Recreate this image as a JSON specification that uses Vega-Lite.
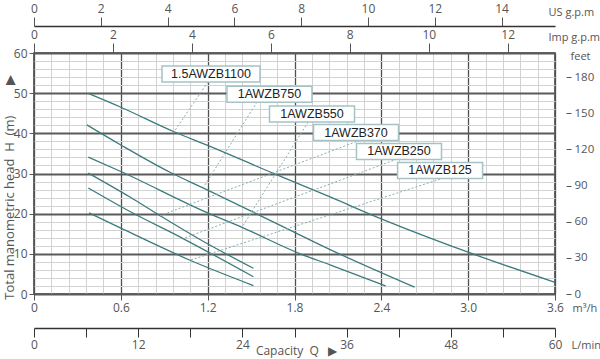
{
  "$schema": "https://vega.github.io/schema/vega-lite/v6.json",
  "width": 521,
  "height": 241,
  "autosize": {"type": "none"},
  "padding": {"left": 34, "top": 53, "right": 45, "bottom": 65},
  "background": "white",
  "config": {
    "view": {"stroke": "#3a3a3a", "strokeWidth": 1.5},
    "axis": {
      "labelFont": "Open Sans", "titleFont": "Open Sans",
      "labelColor": "#555", "titleColor": "#555",
      "labelFontSize": 12, "titleFontSize": 11, "titleFontWeight": "normal",
      "tickColor": "#555", "domainColor": "#333", "grid": false,
      "labelFlush": false, "labelOverlap": false
    }
  },
  "datasets": {
    "curves": [
      {"model": "1.5AWZB1100", "q": 0.37, "h": 50.0},
      {"model": "1.5AWZB1100", "q": 0.6, "h": 46.5},
      {"model": "1.5AWZB1100", "q": 0.968, "h": 40.4},
      {"model": "1.5AWZB1100", "q": 1.2, "h": 37.0},
      {"model": "1.5AWZB1100", "q": 1.65, "h": 30.1},
      {"model": "1.5AWZB1100", "q": 2.05, "h": 24.1},
      {"model": "1.5AWZB1100", "q": 2.4, "h": 18.7},
      {"model": "1.5AWZB1100", "q": 3.0, "h": 10.4},
      {"model": "1.5AWZB1100", "q": 3.6, "h": 2.9},
      {"model": "1AWZB750", "q": 0.365, "h": 42.1},
      {"model": "1AWZB750", "q": 0.6, "h": 37.1},
      {"model": "1AWZB750", "q": 0.94, "h": 30.3},
      {"model": "1AWZB750", "q": 1.168, "h": 26.4},
      {"model": "1AWZB750", "q": 1.57, "h": 19.4},
      {"model": "1AWZB750", "q": 1.815, "h": 15.1},
      {"model": "1AWZB750", "q": 2.05, "h": 11.0},
      {"model": "1AWZB750", "q": 2.63, "h": 1.7},
      {"model": "1AWZB550", "q": 0.375, "h": 34.1},
      {"model": "1AWZB550", "q": 0.6, "h": 30.5},
      {"model": "1AWZB550", "q": 1.2, "h": 20.2},
      {"model": "1AWZB550", "q": 1.437, "h": 16.6},
      {"model": "1AWZB550", "q": 1.84, "h": 10.0},
      {"model": "1AWZB550", "q": 2.05, "h": 7.2},
      {"model": "1AWZB550", "q": 2.43, "h": 2.0},
      {"model": "1AWZB370", "q": 0.375, "h": 30.1},
      {"model": "1AWZB370", "q": 0.66, "h": 24.2},
      {"model": "1AWZB370", "q": 0.871, "h": 19.5},
      {"model": "1AWZB370", "q": 1.15, "h": 13.5},
      {"model": "1AWZB370", "q": 1.516, "h": 6.4},
      {"model": "1AWZB250", "q": 0.375, "h": 26.4},
      {"model": "1AWZB250", "q": 0.66, "h": 20.6},
      {"model": "1AWZB250", "q": 1.03, "h": 13.8},
      {"model": "1AWZB250", "q": 1.516, "h": 4.3},
      {"model": "1AWZB125", "q": 0.38, "h": 20.2},
      {"model": "1AWZB125", "q": 0.6, "h": 16.4},
      {"model": "1AWZB125", "q": 1.078, "h": 8.4},
      {"model": "1AWZB125", "q": 1.516, "h": 2.1}
    ],
    "notes": [
      {"model": "1.5AWZB1100", "lq": 1.223, "lh": 54.8, "sq": 1.202, "sh": 52.8, "aq": 0.968, "ah": 40.4},
      {"model": "1AWZB750", "lq": 1.627, "lh": 49.7, "sq": 1.541, "sh": 47.8, "aq": 1.168, "ah": 26.4},
      {"model": "1AWZB550", "lq": 1.921, "lh": 44.8, "sq": 1.894, "sh": 42.8, "aq": 1.437, "ah": 16.6},
      {"model": "1AWZB370", "lq": 2.225, "lh": 40.2, "sq": 2.253, "sh": 38.3, "aq": 0.871, "ah": 19.5},
      {"model": "1AWZB250", "lq": 2.522, "lh": 35.5, "sq": 2.509, "sh": 33.6, "aq": 1.03, "ah": 13.8},
      {"model": "1AWZB125", "lq": 2.806, "lh": 30.75, "sq": 2.806, "sh": 28.6, "aq": 1.078, "ah": 8.4}
    ]
  },
  "resolve": {"scale": {"x": "independent", "y": "independent"}},
  "layer": [
    {
      "data": {"name": "curves"},
      "mark": {"type": "point", "opacity": 0},
      "encoding": {
        "x": {"field": "q", "type": "quantitative", "scale": {"domain": [0, 3.6], "nice": false, "zero": false},
          "axis": {"orient": "bottom", "values": [0.12,0.24,0.36,0.48,0.72,0.84,0.96,1.08,1.32,1.44,1.56,1.68,1.92,2.04,2.16,2.28,2.52,2.64,2.76,2.88,3.12,3.24,3.36,3.48],
            "grid": true, "gridColor": "#d2d2d2", "gridWidth": 1, "labels": false, "ticks": false, "domain": false, "title": null}},
        "y": {"field": "h", "type": "quantitative", "scale": {"domain": [0, 60], "nice": false, "zero": false},
          "axis": {"orient": "left", "values": [2,4,6,8,12,14,16,18,22,24,26,28,32,34,36,38,42,44,46,48,52,54,56,58],
            "grid": true, "gridColor": "#d2d2d2", "gridWidth": 1, "labels": false, "ticks": false, "domain": false, "title": null}}
      }
    },
    {
      "data": {"name": "curves"},
      "mark": {"type": "line", "interpolate": "monotone", "strokeWidth": 1.3, "color": "#3c7b7d"},
      "encoding": {
        "detail": {"field": "model"},
        "x": {"field": "q", "type": "quantitative", "scale": {"domain": [0, 3.6], "nice": false, "zero": false},
          "axis": {"orient": "bottom", "values": [0, 0.6, 1.2, 1.8, 2.4, 3.0, 3.6], "grid": true, "gridColor": "#4f4f4f", "gridWidth": 1.3,
            "labelExpr": "datum.value == 0 ? '0' : format(datum.value, '.1f')", "tickSize": 6, "labelPadding": 2, "domain": false,
            "title": "m³/h", "titleX": 538, "titleY": 14, "titleAlign": "left", "titleBaseline": "middle", "titleAngle": 0}},
        "y": {"field": "h", "type": "quantitative", "scale": {"domain": [0, 60], "nice": false, "zero": false},
          "axis": {"orient": "left", "values": [0, 10, 20, 30, 40, 50, 60], "grid": true, "gridColor": "#5a5a5a", "gridWidth": 1.8,
            "tickSize": 5, "labelPadding": 2, "domain": false,
            "title": "Total manometric head\u00a0\u00a0H\u00a0\u00a0(m)\u00a0\u00a0\u00a0\u00a0\u00a0\u00a0\u00a0\u00a0\u00a0▶",
            "titleX": -25, "titleY": 134, "titleAngle": -90, "titleAlign": "center", "titleBaseline": "middle", "titleFontSize": 13}}
      }
    },
    {
      "data": {"name": "curves"},
      "mark": {"type": "point", "opacity": 0},
      "encoding": {
        "x": {"field": "q", "type": "quantitative", "scale": {"domain": [0, 60], "nice": false, "zero": false},
          "axis": {"orient": "bottom", "offset": 34, "values": [0, 6, 12, 18, 24, 30, 36, 42, 48, 54, 60],
            "labelExpr": "datum.value % 12 == 0 ? datum.label : ''", "tickSize": 9, "tickColor": "#333",
            "domain": true, "domainColor": "#333", "domainWidth": 1.5, "labelPadding": 2,
            "title": "L/min", "titleX": 537, "titleY": 17, "titleAlign": "left", "titleBaseline": "middle", "titleAngle": 0}}
      }
    },
    {
      "data": {"name": "curves"},
      "mark": {"type": "point", "opacity": 0},
      "encoding": {
        "x": {"field": "q", "type": "quantitative", "scale": {"domain": [0, 60], "nice": false, "zero": false},
          "axis": {"orient": "bottom", "offset": 34, "labels": false, "ticks": false, "domain": false,
            "title": "Capacity\u00a0\u00a0Q\u00a0\u00a0\u00a0▶", "titleX": 262, "titleY": 22, "titleAlign": "center", "titleBaseline": "middle", "titleAngle": 0, "titleFontSize": 12}}
      }
    },
    {
      "data": {"name": "curves"},
      "mark": {"type": "point", "opacity": 0},
      "encoding": {
        "x": {"field": "q", "type": "quantitative", "scale": {"domain": [0, 13.198], "nice": false, "zero": false},
          "axis": {"orient": "top", "values": [0, 2, 4, 6, 8, 10, 12], "tickSize": 10, "labelPadding": 2, "domain": false,
            "title": "Imp g.p.m", "titleX": 514, "titleY": -16, "titleAlign": "left", "titleBaseline": "middle", "titleAngle": 0}}
      }
    },
    {
      "data": {"name": "curves"},
      "mark": {"type": "point", "opacity": 0},
      "encoding": {
        "x": {"field": "q", "type": "quantitative", "scale": {"domain": [0, 15.6], "nice": false, "zero": false},
          "axis": {"orient": "top", "offset": 27, "values": [0, 2, 4, 6, 8, 10, 12, 14], "tickSize": 9, "labelPadding": 2,
            "domain": true, "domainColor": "#333", "domainWidth": 1.5,
            "title": "US g.p.m", "titleX": 514, "titleY": -14, "titleAlign": "left", "titleBaseline": "middle", "titleAngle": 0}}
      }
    },
    {
      "data": {"name": "curves"},
      "mark": {"type": "point", "opacity": 0},
      "encoding": {
        "y": {"field": "h", "type": "quantitative", "scale": {"domain": [0, 200], "nice": false, "zero": false},
          "axis": {"orient": "right", "offset": 11, "values": [0, 30, 60, 90, 120, 150, 180], "tickSize": 5, "domain": false, "labelPadding": 3,
            "labelFontSize": 11.5,
            "title": "feet", "titleX": 4, "titleY": 3, "titleAlign": "left", "titleBaseline": "middle", "titleAngle": 0}}
      }
    },
    {
      "data": {"name": "notes"},
      "mark": {"type": "rule", "strokeDash": [2, 2], "strokeWidth": 1, "color": "#86aeb0"},
      "encoding": {
        "x": {"field": "sq", "type": "quantitative", "scale": {"domain": [0, 3.6], "nice": false, "zero": false}, "axis": null},
        "y": {"field": "sh", "type": "quantitative", "scale": {"domain": [0, 60], "nice": false, "zero": false}, "axis": null},
        "x2": {"field": "aq"},
        "y2": {"field": "ah"}
      }
    },
    {
      "data": {"name": "notes"},
      "transform": [{"filter": "datum.model != '1.5AWZB1100'"}],
      "mark": {"type": "rect", "width": 85, "height": 16, "fill": "white", "stroke": "#a6c2c4", "strokeWidth": 1.5},
      "encoding": {
        "x": {"field": "lq", "type": "quantitative", "scale": {"domain": [0, 3.6], "nice": false, "zero": false}, "axis": null},
        "y": {"field": "lh", "type": "quantitative", "scale": {"domain": [0, 60], "nice": false, "zero": false}, "axis": null}
      }
    },
    {
      "data": {"name": "notes"},
      "transform": [{"filter": "datum.model == '1.5AWZB1100'"}],
      "mark": {"type": "rect", "width": 98, "height": 16, "fill": "white", "stroke": "#a6c2c4", "strokeWidth": 1.5},
      "encoding": {
        "x": {"field": "lq", "type": "quantitative", "scale": {"domain": [0, 3.6], "nice": false, "zero": false}, "axis": null},
        "y": {"field": "lh", "type": "quantitative", "scale": {"domain": [0, 60], "nice": false, "zero": false}, "axis": null}
      }
    },
    {
      "data": {"name": "notes"},
      "mark": {"type": "text", "font": "Liberation Sans", "fontSize": 12.5, "fill": "#222", "align": "center", "baseline": "middle"},
      "encoding": {
        "x": {"field": "lq", "type": "quantitative", "scale": {"domain": [0, 3.6], "nice": false, "zero": false}, "axis": null},
        "y": {"field": "lh", "type": "quantitative", "scale": {"domain": [0, 60], "nice": false, "zero": false}, "axis": null},
        "text": {"field": "model"}
      }
    }
  ]
}
